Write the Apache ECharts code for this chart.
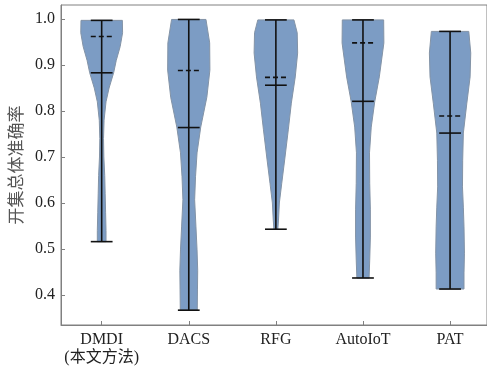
<!DOCTYPE html>
<html><head><meta charset="utf-8">
<script src="https://cdn.jsdelivr.net/npm/echarts@6/dist/echarts.min.js"></script>
<style>html,body{margin:0;padding:0;background:#fff}#c{width:487px;height:370px}</style>
</head><body><div id="c"></div>
<script>
const categories = ['DMDI\n(本文方法)', 'DACS', 'RFG', 'AutoIoT', 'PAT'];
const yTicks = [0.4, 0.5, 0.6, 0.7, 0.8, 0.9, 1.0];
const minVals = [0.516, 0.367, 0.543, 0.437, 0.413];
const maxVals = [0.997, 0.999, 0.998, 0.998, 0.973];
const meanVals = [0.883, 0.764, 0.856, 0.821, 0.752];
const medianVals = [0.962, 0.888, 0.873, 0.948, 0.789];
// violin outline: value levels and relative density (1 = widest)
const dmdiLevels = [0.516, 0.54, 0.58, 0.62, 0.66, 0.70, 0.74, 0.78, 0.82, 0.85, 0.883, 0.91, 0.94, 0.97, 0.997];
const dmdiDens   = [0.20, 0.20, 0.18, 0.16, 0.14, 0.10, 0.085, 0.11, 0.20, 0.34, 0.55, 0.67, 0.85, 0.96, 0.95];
const dacsLevels = [0.367, 0.411, 0.454, 0.498, 0.548, 0.607, 0.657, 0.709, 0.765, 0.830, 0.889, 0.948, 0.999];
const dacsDens   = [0.39, 0.40, 0.41, 0.38, 0.33, 0.27, 0.31, 0.38, 0.55, 0.83, 0.97, 0.96, 0.79];
const rfgLevels  = [0.543, 0.563, 0.600, 0.643, 0.700, 0.759, 0.817, 0.874, 0.926, 0.970, 0.998];
const rfgDens    = [0.09, 0.12, 0.16, 0.27, 0.42, 0.57, 0.71, 0.89, 1.00, 0.98, 0.83];
const autoLevels = [0.437, 0.476, 0.526, 0.585, 0.643, 0.709, 0.765, 0.820, 0.874, 0.948, 0.998];
const autoDens   = [0.28, 0.31, 0.34, 0.34, 0.31, 0.30, 0.38, 0.54, 0.75, 0.96, 0.95];
const patLevels  = [0.413, 0.448, 0.491, 0.548, 0.591, 0.635, 0.693, 0.752, 0.817, 0.874, 0.926, 0.973];
const patDens    = [0.64, 0.64, 0.66, 0.64, 0.61, 0.57, 0.58, 0.61, 0.77, 0.92, 0.95, 0.86];

const levels = [dmdiLevels, dacsLevels, rfgLevels, autoLevels, patLevels];
const dens = [dmdiDens, dacsDens, rfgDens, autoDens, patDens];
const HALF = 0.25, CAP = 0.125;
const FONT = "'Liberation Serif', 'Noto Sans CJK SC', serif";

const chart = echarts.init(document.getElementById('c'), null, {renderer: 'canvas'});
function renderItem(params, api) {
  const i = params.dataIndex;
  const lv = levels[i], dn = dens[i];
  const pts = [];
  for (let k = 0; k < lv.length; k++) pts.push(api.coord([i + HALF * dn[k], lv[k]]));
  for (let k = lv.length - 1; k >= 0; k--) pts.push(api.coord([i - HALF * dn[k], lv[k]]));
  const lineStyle = {stroke: '#111', lineWidth: 1.6};
  const hl = (v, dash) => {
    const a = api.coord([i - CAP, v]), b = api.coord([i + CAP, v]);
    return {type: 'line', shape: {x1: a[0], y1: a[1], x2: b[0], y2: b[1]},
      style: Object.assign({}, lineStyle, dash ? {lineDash: [5, 3]} : {})};
  };
  const top = api.coord([i, maxVals[i]]), bot = api.coord([i, minVals[i]]);
  return {type: 'group', children: [
    {type: 'polygon', shape: {points: pts}, style: {fill: '#7c9cc4', stroke: '#8393a6', lineWidth: 1}},
    {type: 'line', shape: {x1: top[0], y1: top[1], x2: bot[0], y2: bot[1]}, style: lineStyle},
    hl(maxVals[i]), hl(minVals[i]), hl(meanVals[i]), hl(medianVals[i], true)
  ]};
}

chart.setOption({
  animation: false,
  grid: {left: 61, top: 5, right: 0, bottom: 45, show: true, borderColor: '#808080', borderWidth: 1,
    outerBoundsMode: 'none', containLabel: false},
  xAxis: {
    type: 'value', min: -0.467, max: 4.424,
    splitLine: {show: false},
    axisLine: {show: true, onZero: false, lineStyle: {color: '#808080'}},
    axisTick: {show: true, inside: true, length: 4, customValues: [0, 1, 2, 3, 4], lineStyle: {color: '#808080'}},
    axisLabel: {customValues: [0, 1, 2, 3, 4], formatter: v => categories[Math.round(v)],
      fontFamily: FONT, fontSize: 16, color: '#222', margin: 6, lineHeight: 18}
  },
  yAxis: {
    type: 'value', min: 0.3348, max: 1.0304,
    name: '开集总体准确率', nameLocation: 'middle', nameGap: 33,
    nameTextStyle: {fontFamily: "'Noto Sans CJK SC', sans-serif", fontSize: 17, color: '#555'},
    splitLine: {show: false},
    axisLine: {show: true, onZero: false, lineStyle: {color: '#808080'}},
    axisTick: {show: true, inside: true, length: 4, customValues: yTicks, lineStyle: {color: '#808080'}},
    axisLabel: {customValues: yTicks, formatter: v => v.toFixed(1), fontFamily: FONT, fontSize: 16, color: '#222', margin: 6}
  },
  series: [{
    type: 'custom', renderItem: renderItem, clip: false,
    data: categories.map((c, i) => [i, maxVals[i]]),
    encode: {x: 0, y: 1}
  }]
});
</script></body></html>
